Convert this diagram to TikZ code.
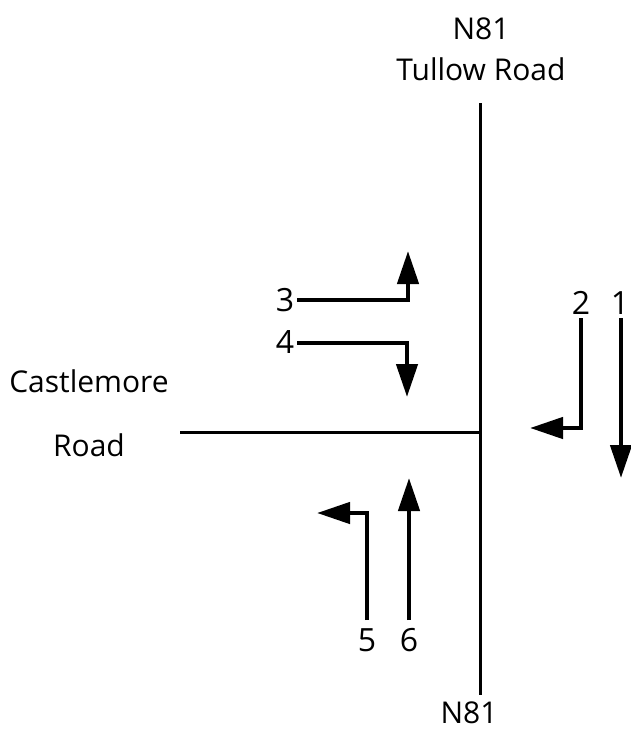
\documentclass[tikz,border=0pt]{standalone}
\usepackage{fontspec}
\setmainfont{Open Sans}
\usetikzlibrary{arrows.meta}
\begin{document}
\begin{tikzpicture}[x=1pt,y=-1pt,
  road/.style={line width=3pt},
  mv/.style={line width=4.5pt,-{Triangle[length=33pt,width=21pt]}},
  lbl/.style={font=\fontsize{30}{34}\selectfont,inner sep=0pt},
  num/.style={font=\fontsize{32}{36}\selectfont,inner sep=0pt}]
\useasboundingbox (0,0) rectangle (630,734);
% roads
\coordinate (nTop) at (480,103);
\coordinate (nBot) at (480,695);
\coordinate (jn) at (480,432);
\coordinate (cW) at (180,432);
\draw[road] (nTop) -- (nBot);
\draw[road] (cW) -- (jn);
% road labels
\node[lbl] (n81t) at (481,29) {N81};
\node[lbl] (tul) at (481,69) {Tullow Road};
\node[lbl] (n81b) at (469,713) {N81};
\node[lbl] (cas) at (89,381) {Castlemore};
\node[lbl] (rd) at (89,445) {Road};
% movement labels
\node[num] (l3) at (285,300) {3};
\node[num] (l4) at (285,342) {4};
\node[num] (l2) at (581,303) {2};
\node[num] (l1) at (620,303) {1};
\node[num] (l5) at (367,640) {5};
\node[num] (l6) at (409,640) {6};
% movement arrows
\coordinate (a3s) at (297,300);
\coordinate (a3c) at (408,300);
\coordinate (a3e) at (408,251);
\draw[mv] (a3s) -- (a3c) -- (a3e);
\coordinate (a4s) at (297,343);
\coordinate (a4c) at (407,343);
\coordinate (a4e) at (407,397);
\draw[mv] (a4s) -- (a4c) -- (a4e);
\coordinate (a2s) at (581,318);
\coordinate (a2c) at (581,428);
\coordinate (a2e) at (530,428);
\draw[mv] (a2s) -- (a2c) -- (a2e);
\coordinate (a1s) at (621,318);
\coordinate (a1e) at (621,478);
\draw[mv] (a1s) -- (a1e);
\coordinate (a5s) at (367,620);
\coordinate (a5c) at (367,513);
\coordinate (a5e) at (317,513);
\draw[mv] (a5s) -- (a5c) -- (a5e);
\coordinate (a6s) at (409,620);
\coordinate (a6e) at (409,478);
\draw[mv] (a6s) -- (a6e);
\end{tikzpicture}
\end{document}
